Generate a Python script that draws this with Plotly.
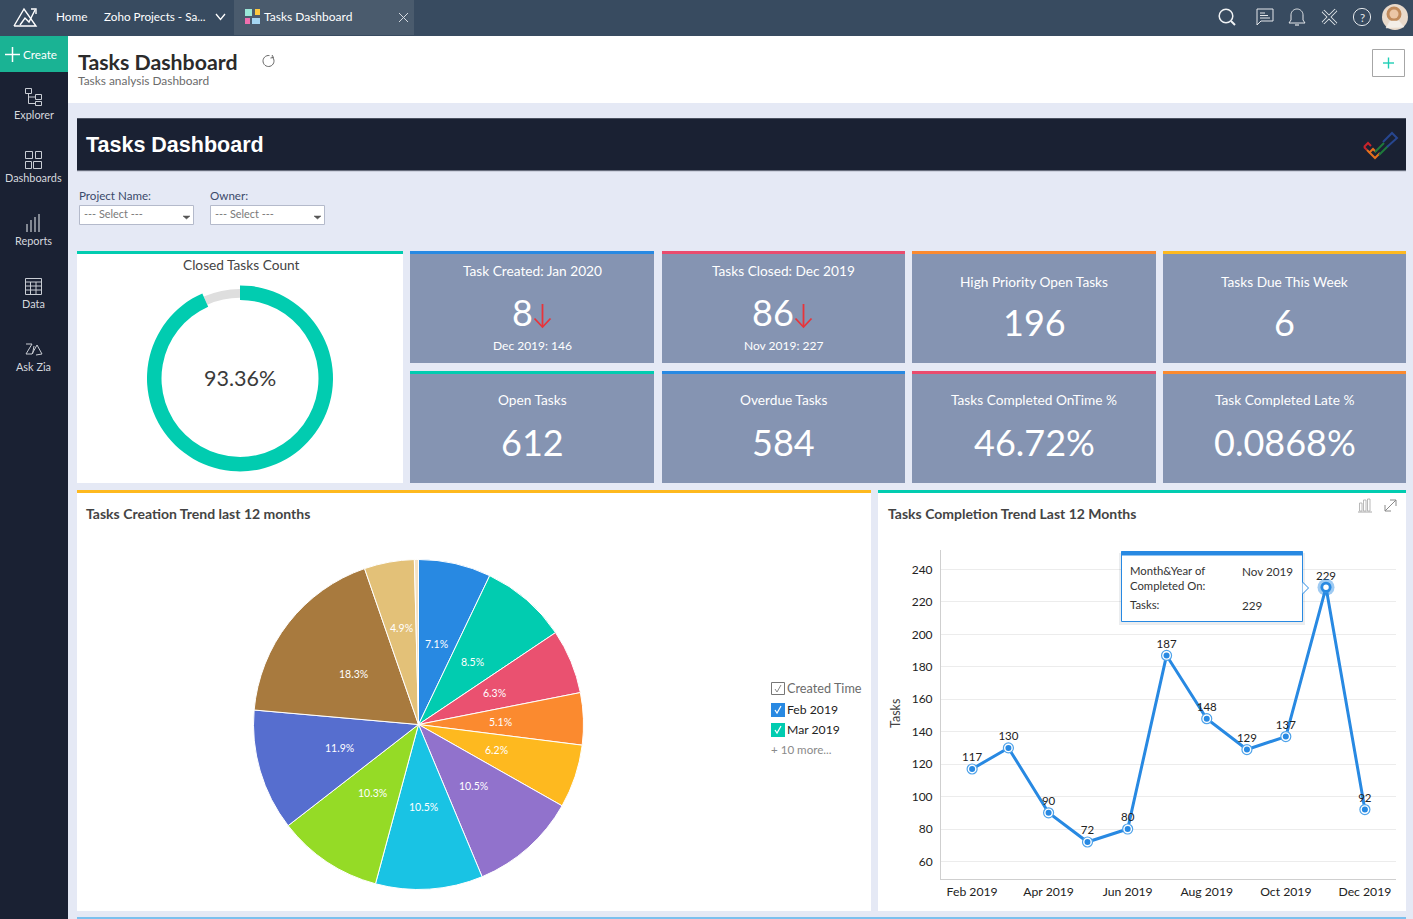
import math
import plotly.graph_objects as go

# ------- data -------
created_labels = ["Feb 2019", "Mar 2019", "Apr 2019", "May 2019", "Jun 2019", "Jul 2019",
                  "Aug 2019", "Sep 2019", "Oct 2019", "Nov 2019", "Dec 2019", "Jan 2020"]
created_pct = [7.1, 8.5, 6.3, 5.1, 6.2, 10.5, 10.5, 10.3, 11.9, 18.3, 4.9, 0.4]
created_text = ["7.1%", "8.5%", "6.3%", "5.1%", "6.2%", "10.5%", "10.5%", "10.3%", "11.9%", "18.3%", "4.9%", ""]

completed_months = ["2019-02-01", "2019-03-01", "2019-04-01", "2019-05-01", "2019-06-01", "2019-07-01",
                    "2019-08-01", "2019-09-01", "2019-10-01", "2019-11-01", "2019-12-01"]
completed_tasks = [117, 130, 90, 72, 80, 187, 148, 129, 137, 229, 92]
month_ticks = ["2019-02-01", "2019-04-01", "2019-06-01", "2019-08-01", "2019-10-01", "2019-12-01"]
task_ticks = [60, 80, 100, 120, 140, 160, 180, 200, 220, 240]

closed_pct = [93.36, 6.64]

tile_titles = ["Task Created: Jan 2020", "Tasks Closed: Dec 2019", "High Priority Open Tasks", "Tasks Due This Week",
               "Open Tasks", "Overdue Tasks", "Tasks Completed OnTime %", "Task Completed Late %"]
tile_values = ["8", "86", "196", "6", "612", "584", "46.72%", "0.0868%"]
tile_notes = ["Dec 2019: 146", "Nov 2019: 227", "", "", "", "", "", ""]

side_labels = ["Explorer", "Dashboards", "Reports", "Data", "Ask Zia"]

# ------- colours -------
pie_colors = ["#2889E2", "#01CCB0", "#EA5170", "#FB8A2F", "#FEB91F", "#9172CC",
              "#19C3E4", "#95DB26", "#566ECF", "#A87A3E", "#E3C178", "#F4E2C4"]
NAVY = "#1A2133"
BAR = "#384B60"
PAGE = "#E5E9F5"
TILE = "#8594B2"
BLUE = "#2889E2"
TEAL = "#01CCB0"
PINK = "#EA4C6E"
ORANGE = "#FB8A2F"
YELLOW = "#FEB91F"
ICON = "#C9CDD4"
FONT = "Lato"

W, H = 1413, 919
shapes = []
notes = []


def rect(x0, y0, x1, y1, fill, line=None, layer="below", width=1):
    shapes.append(dict(type="rect", xref="x", yref="y", x0=x0, y0=y0, x1=x1, y1=y1, fillcolor=fill, layer=layer,
                       line=dict(color=line or fill, width=width if line else 0)))


def stroke(points, color=ICON, width=1, layer="below", close=False, fill=None):
    d = "M" + " L".join(f"{x},{y}" for x, y in points) + (" Z" if close else "")
    shapes.append(dict(type="path", xref="x", yref="y", path=d, layer=layer, fillcolor=fill or "rgba(0,0,0,0)",
                       line=dict(color=color, width=width)))


def ring(cx, cy, r, color=ICON, width=1, fill=None, layer="below"):
    shapes.append(dict(type="circle", xref="x", yref="y", x0=cx - r, y0=cy - r, x1=cx + r, y1=cy + r, layer=layer,
                       fillcolor=fill or "rgba(0,0,0,0)", line=dict(color=color, width=width)))


def arc(cx, cy, r, a0, a1, n=24):
    return [(cx + r * math.cos(math.radians(a0 + (a1 - a0) * i / n)),
             cy + r * math.sin(math.radians(a0 + (a1 - a0) * i / n))) for i in range(n + 1)]


def note(x, y, text, size=12, color="#333", anchor="center", family=FONT, angle=0):
    # annotations carry a small padding, so nudge to land on the reference pixel
    if anchor == "left":
        x -= 2
    notes.append(dict(xref="x", yref="y", x=x, y=y - 1, text=text, showarrow=False, xanchor=anchor, yanchor="middle",
                      textangle=angle, font=dict(size=size, color=color, family=family)))


# ------- page frame -------
rect(0, 0, W, H, PAGE)
rect(0, 0, W, 36, BAR)
rect(234, 0, 414, 35, "#4A5B6D")
rect(68, 36, W, 103, "#FFFFFF")
rect(0, 36, 68, H, NAVY)
rect(0, 36, 68, 72, "#1AB394")

# top bar
stroke([(14, 26), (24, 9), (36, 26), (14, 26)], "#FFFFFF", 1.4)
stroke([(20, 25), (25, 18), (29, 22), (35, 10)], "#FFFFFF", 1.4)
stroke([(31, 9), (36, 9), (36, 14)], "#FFFFFF", 1.4)
note(56, 17, "Home", 11.8, "#FFFFFF", "left")
note(104, 17, "Zoho Projects - Sa...", 11.7, "#FFFFFF", "left")
stroke([(216, 14), (220.5, 19.5), (225, 14)], "#FFFFFF", 1.3)
rect(245, 9, 252, 16, "#9BE8D8")
rect(255, 9, 260, 15, "#FDC93F")
rect(245, 18, 250, 24, "#F06FAE")
rect(252, 18, 260, 24, "#A5D6F2")
note(264, 17, "Tasks Dashboard", 12, "#FFFFFF", "left")
stroke([(399, 13), (408, 22)], "#D5DAE0", 1)
stroke([(408, 13), (399, 22)], "#D5DAE0", 1)

ring(1226, 16, 6.8, "#F0F2F4", 1.5)
stroke([(1231, 21), (1235, 25)], "#F0F2F4", 2)
stroke([(1257, 9), (1273, 9), (1273, 21), (1261, 21), (1257, 25), (1257, 9)], "#E4E7EA", 1)
for y0, x1 in [(13, 1265), (15.5, 1268), (18, 1270)]:
    stroke([(1260, y0), (x1, y0)], "#E4E7EA", 1)
stroke(arc(1297, 15, 6, 180, 360) + [(1303, 20), (1305, 23), (1289, 23), (1291, 20), (1291, 15)], "#E4E7EA", 1)
stroke([(1295, 25), (1299, 25)], "#E4E7EA", 1.2)
stroke([(1323, 11), (1336, 24)], "#E4E7EA", 3.8)
stroke([(1336, 10), (1323, 23)], "#E4E7EA", 3.8)
stroke([(1323, 11), (1336, 24)], BAR, 1.8)
stroke([(1336, 10), (1323, 23)], BAR, 1.8)
ring(1362, 17, 8.6, "#E4E7EA", 1)
note(1362, 18, "?", 11.5, "#E4E7EA")
ring(1395, 17, 13, "#E9DACB", 0, "#E9DACB")
ring(1394, 14, 7.5, "#C08A5B", 0, "#C08A5B")
ring(1394, 14, 4.5, "#EBC6A6", 0, "#EBC6A6")
stroke([(1386, 28), (1390, 21), (1399, 21), (1404, 27)], "#F3EEE8", 0.5, close=True, fill="#F3EEE8")

# sidebar
stroke([(5, 54.5), (20, 54.5)], "#FFFFFF", 1.5)
stroke([(12.5, 47), (12.5, 62)], "#FFFFFF", 1.5)
note(23, 55, "Create", 11.7, "#FFFFFF", "left")
side_y = [115, 178, 241, 304, 367]
for lab, y0 in zip(side_labels, side_y):
    note(33.5, y0, lab, 10.9, "#D5D8DE")
# explorer
rect(25.5, 88.5, 31.5, 93.5, "rgba(0,0,0,0)", ICON)
rect(35.5, 94.5, 41.5, 99.5, "rgba(0,0,0,0)", ICON)
rect(35.5, 101.5, 41.5, 105.5, "rgba(0,0,0,0)", ICON)
stroke([(28.5, 93.5), (28.5, 103.5), (35.5, 103.5)])
stroke([(28.5, 97), (35.5, 97)])
# dashboards
rect(25.5, 151.5, 32.5, 158.5, "rgba(0,0,0,0)", ICON)
rect(35.5, 151.5, 41.5, 158.5, "rgba(0,0,0,0)", ICON)
rect(25.5, 161.5, 31.5, 168.5, "rgba(0,0,0,0)", ICON)
rect(33.5, 161.5, 41.5, 168.5, "rgba(0,0,0,0)", ICON)
# reports
for x0, y0 in [(27, 224), (31, 220), (35, 217), (39, 214)]:
    stroke([(x0, y0), (x0, 232)], ICON, 1.2)
# data
rect(25.5, 278.5, 41.5, 294.5, "rgba(0,0,0,0)", ICON)
for y0 in [282, 286, 290]:
    stroke([(25.5, y0), (41.5, y0)])
stroke([(30.5, 282), (30.5, 294.5)])
stroke([(36, 282), (36, 294.5)])
# ask zia
stroke([(26, 344), (32, 344), (26, 354), (32, 354)], ICON, 1)
stroke([(34, 346), (32.5, 354)], ICON, 1)
stroke([(32, 354), (37, 345), (42, 354), (36, 355)], ICON, 1)

# header strip
note(78, 62.5, "<b>Tasks Dashboard</b>", 21.3, "#2B2B2B", "left")
note(78, 81.5, "Tasks analysis Dashboard", 11.9, "#6B6B6B", "left")
stroke(arc(268.5, 61, 5.5, -50, 280), "#666", 1)
stroke([(272, 55), (273.5, 57.5), (270.5, 58)], "#666", 1)
rect(1372.5, 49.5, 1404.5, 76.5, "#FFFFFF", "#A6A6A6")
stroke([(1383, 63), (1394, 63)], "#1FCFB5", 1.4)
stroke([(1388.5, 57.5), (1388.5, 68.5)], "#1FCFB5", 1.4)

# banner
rect(77, 118, 1406, 171, NAVY)
stroke([(77, 118.5), (1406, 118.5)], "#4B5261", 1)
stroke([(77, 171), (1406, 171)], "#B5BAC7", 1)
note(86, 145.5, "<b>Tasks Dashboard</b>", 21.5, "#FFFFFF", "left", "Liberation Sans")
stroke([(1364, 147), (1368, 143), (1371, 146)], "#C9242B", 2)
stroke([(1367, 150), (1364, 147)], "#C9242B", 2)
stroke([(1369, 153), (1373, 149), (1376, 152)], "#E6701D", 2)
stroke([(1367, 150), (1375, 158), (1380, 153)], "#E6701D", 2)
stroke([(1375, 152), (1384, 143)], "#1E7A3C", 2)
stroke([(1379, 155), (1388, 146)], "#1E7A3C", 2)
stroke([(1383, 142), (1392, 133), (1397, 138), (1387, 147)], "#27468F", 2)

# filters
for x0, lab in [(79, "Project Name:"), (210, "Owner:")]:
    note(x0, 196.5, lab, 11.6, "#3B4A6B", "left")
    rect(x0 + 0.5, 205.5, x0 + 114.5, 224.5, "#FFFFFF", "#B4BACB")
    note(x0 + 5, 214.5, "--- Select ---", 10.9, "#7A7A7A", "left")
    stroke([(x0 + 104, 216), (x0 + 111, 216), (x0 + 107.5, 219)], "#555", 0.5, close=True, fill="#555")

# donut card
rect(77, 251, 403, 483, "#FFFFFF")
rect(77, 251, 403, 254, TEAL)
note(241.5, 265, "Closed Tasks Count", 13.7, "#444")
note(240, 379, "93.36%", 21.5, "#3A3A3A")

# tiles
tile_x = [(410, 654), (662, 905), (912, 1156), (1163, 1406)]
tile_y = [(251, 363), (371, 483)]
tile_tops = [BLUE, PINK, ORANGE, YELLOW, TEAL, BLUE, PINK, ORANGE]
title_y = [271, 271, 282, 282, 400, 400, 400, 400]
value_y = [313, 313, 323, 323, 443, 443, 443, 443]
value_x = [522, 773, None, None, None, None, None, None]
for i in range(8):
    x0, x1 = tile_x[i % 4]
    y0, y1 = tile_y[i // 4]
    cx = (x0 + x1) / 2
    rect(x0, y0, x1, y1, TILE)
    rect(x0, y0, x1, y0 + 3, tile_tops[i])
    note(cx, title_y[i], tile_titles[i], 13.7, "#FFFFFF")
    note(value_x[i] or cx, value_y[i], tile_values[i], 36, "#FFFFFF")
    if tile_notes[i]:
        note(cx, 346.5, tile_notes[i], 12, "#FFFFFF")
for ax in [542.5, 803.5]:
    stroke([(ax, 304), (ax, 327)], "#E8343A", 1.8)
    stroke([(ax - 8, 318.5), (ax, 327), (ax + 8, 318.5)], "#E8343A", 1.8)

# lower panels
rect(77, 490, 871, 911, "#FFFFFF")
rect(77, 490, 871, 493, YELLOW)
rect(878, 490, 1406, 911, "#FFFFFF")
rect(878, 490, 1406, 493, TEAL)
rect(77, 917, 1406, 919, "#7CC0EE")
note(85.5, 514, "<b>Tasks Creation Trend last 12 months</b>", 14, "#444", "left")
note(887.5, 514, "<b>Tasks Completion Trend Last 12 Months</b>", 14, "#444", "left")
note(895, 715, "Tasks", 12.5, "#444", angle=-90)

# chart icons
for x0, y0 in [(1359.5, 503), (1363.5, 500), (1367.5, 499)]:
    rect(x0, y0, x0 + 2.5, 511, "rgba(0,0,0,0)", "#A8A8A8", width=0.8)
stroke([(1358, 512), (1372, 512)], "#A8A8A8", 1)
stroke([(1385, 511), (1396, 500)], "#8A8A8A", 1)
stroke([(1390, 500), (1396, 500), (1396, 506)], "#8A8A8A", 1)
stroke([(1385, 505), (1385, 511), (1391, 511)], "#8A8A8A", 1)

# pie legend
rect(771.5, 682.5, 784.5, 694.5, "#FFFFFF", "#777")
stroke([(775, 689), (777, 692), (781, 685)], "#888", 1)
note(787, 688.5, "Created Time", 12.7, "#6B6B6B", "left")
for y0, col, lab in [(703, pie_colors[0], created_labels[0]), (723, pie_colors[1], created_labels[1])]:
    rect(771, y0, 785, y0 + 14, col)
    stroke([(775, y0 + 7), (777, y0 + 10), (781, y0 + 3)], "#FFFFFF", 1.2)
    note(787, y0 + 7, lab, 12.2, "#222", "left")
note(771, 750.5, "+ 10 more...", 11.6, "#8A8A8A", "left")

# pie slice percentages sit near half radius, the thin tan slice further out
pie_cx, pie_cy, pie_r = 418.5, 724.5, 165
label_r = [82.5, 82.5, 82.5, 82.5, 82.5, 82.5, 82.5, 82.5, 82.5, 82.5, 98, 82.5]
total = sum(created_pct)
run = 0
for pct, txt, r in zip(created_pct, created_text, label_r):
    mid = (run + pct / 2) / total * 2 * math.pi
    run += pct
    note(pie_cx + r * math.sin(mid), pie_cy + 1 - r * math.cos(mid), txt, 10.5, "#FFFFFF")

# tooltip
rect(1119, 553, 1305, 625, "rgba(60,80,100,0.10)", layer="above")
rect(1121.5, 551.5, 1302.5, 621.5, "#FFFFFF", BLUE, layer="above")
rect(1121.5, 551, 1302.5, 555.5, BLUE, layer="above")
stroke([(1302.5, 582), (1308.5, 588), (1302.5, 594)], BLUE, 1, "above", fill="#FFFFFF")
note(1130, 571.5, "Month&amp;Year of", 11.3, "#333", "left")
note(1130, 586.5, "Completed On:", 11.3, "#333", "left")
note(1130, 605.5, "Tasks:", 11.3, "#333", "left")
note(1242, 571.5, "Nov 2019", 11.7, "#333", "left")
note(1242, 605.5, "229", 11.7, "#333", "left")


def px_dom(a, b, size):
    return [a / size, b / size]


# ------- charts -------
fig = go.Figure()

fig.add_trace(go.Pie(values=[closed_pct[0], closed_pct[1]], sort=False, direction="clockwise", rotation=0,
                     hole=0.90, marker=dict(colors=["rgba(0,0,0,0)", "#DEDEDE"], line=dict(width=0)),
                     textinfo="none", showlegend=False, hoverinfo="skip",
                     domain=dict(x=px_dom(240 - 89.5, 240 + 89.5, W), y=px_dom(H - 378.4 - 89.5, H - 378.4 + 89.5, H))))
fig.add_trace(go.Pie(values=closed_pct, sort=False, direction="clockwise", rotation=0,
                     hole=0.844, marker=dict(colors=[TEAL, "rgba(0,0,0,0)"], line=dict(width=0)),
                     textinfo="none", showlegend=False, hoverinfo="skip",
                     domain=dict(x=px_dom(240 - 93, 240 + 93, W), y=px_dom(H - 378.4 - 93, H - 378.4 + 93, H))))
fig.add_trace(go.Pie(labels=created_labels, values=created_pct, sort=False, direction="clockwise", rotation=0,
                     marker=dict(colors=pie_colors, line=dict(color="#FFFFFF", width=1)),
                     textinfo="none", showlegend=False,
                     domain=dict(x=px_dom(pie_cx - pie_r, pie_cx + pie_r, W),
                                 y=px_dom(H - pie_cy - pie_r, H - pie_cy + pie_r, H))))

fig.add_trace(go.Scatter(x=completed_months, y=completed_tasks, mode="lines", xaxis="x2", yaxis="y2",
                         line=dict(color=BLUE, width=3), showlegend=False, hoverinfo="skip"))
fig.add_trace(go.Scatter(x=completed_months, y=completed_tasks, mode="markers", xaxis="x2", yaxis="y2",
                         marker=dict(size=10, color="#FFFFFF", line=dict(color="#4FA3EA", width=1.2)),
                         showlegend=False, hoverinfo="skip"))
fig.add_trace(go.Scatter(x=completed_months, y=completed_tasks, mode="markers+text", xaxis="x2", yaxis="y2",
                         marker=dict(size=6, color=BLUE),
                         text=[str(v) for v in completed_tasks], textposition="top center",
                         textfont=dict(size=11.5, color="#222", family=FONT), showlegend=False, hoverinfo="skip"))
fig.add_trace(go.Scatter(x=[completed_months[9]], y=[completed_tasks[9]], mode="markers", xaxis="x2", yaxis="y2",
                         marker=dict(size=17, color="rgba(40,137,226,0.45)"), showlegend=False, hoverinfo="skip"))
fig.add_trace(go.Scatter(x=[completed_months[9]], y=[completed_tasks[9]], mode="markers", xaxis="x2", yaxis="y2",
                         marker=dict(size=8, color="#FFFFFF", line=dict(color=BLUE, width=2.5)),
                         showlegend=False, hoverinfo="skip"))

fig.update_layout(
    width=W,
    height=H,
    autosize=False,
    margin=dict(l=0, r=0, t=0, b=0),
    paper_bgcolor=PAGE,
    plot_bgcolor="rgba(0,0,0,0)",
    font=dict(family=FONT),
    shapes=shapes,
    annotations=notes,
    # pixel canvas for the dashboard furniture
    xaxis=dict(range=[0, W], domain=[0, 1], visible=False, fixedrange=True),
    yaxis=dict(range=[H, 0], domain=[0, 1], visible=False, fixedrange=True),
    xaxis2=dict(domain=px_dom(941, 1396, W), anchor="y2", type="date", range=["2019-01-08", "2019-12-25"],
                tickmode="array", tickvals=month_ticks, tickformat="%b %Y",
                showgrid=False, showline=True, linecolor="#CFCFCF", ticks="outside", ticklen=2,
                tickcolor="rgba(0,0,0,0)", tickfont=dict(size=12.2, color="#222", family=FONT), zeroline=False),
    yaxis2=dict(domain=px_dom(H - 878.5, H - 549.5, H), anchor="x2", range=[49.5, 252.3], tickmode="array",
                tickvals=task_ticks, showgrid=True, gridcolor="#ECECEC", gridwidth=1, showline=True,
                linecolor="#CFCFCF", ticks="outside", ticklen=5, tickcolor="rgba(0,0,0,0)",
                tickfont=dict(size=12, color="#222", family=FONT), zeroline=False),
)

fig.write_html("out.html", config={"displayModeBar": False},
               post_script="document.body.style.margin='0';document.body.style.overflow='hidden';")
